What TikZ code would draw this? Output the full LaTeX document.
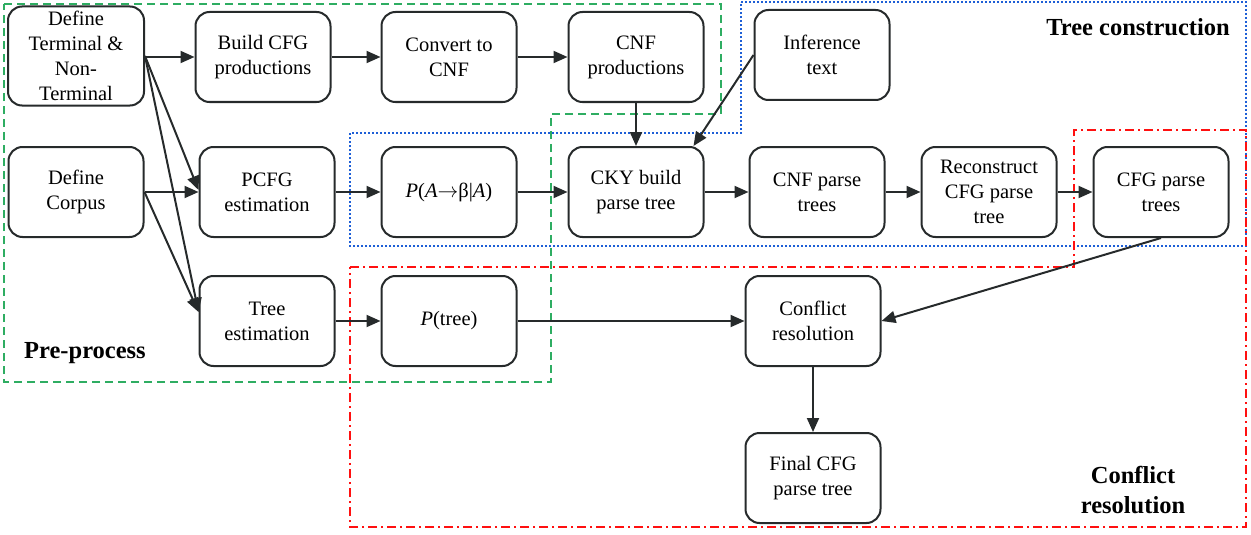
\documentclass[tikz,border=0pt]{standalone}
\usepackage{fontspec}
\setmainfont{Liberation Serif}
\usetikzlibrary{arrows.meta,calc}
\definecolor{ink}{HTML}{262A2B}
\definecolor{pgreen}{HTML}{2EAD62}
\definecolor{pblue}{HTML}{1E5FD6}
\definecolor{pred}{HTML}{FF1010}
\begin{document}
\begin{tikzpicture}[x=1pt,y=-1pt,
 box/.style={draw=ink, line width=2pt, rounded corners=14pt, minimum width=135pt, minimum height=90pt, align=center, text=black, font=\fontsize{20.5}{25}\selectfont, inner sep=0pt},
 arr/.style={draw=ink, line width=2pt, -{Triangle[length=14pt,width=12pt]}},
 lbl/.style={font=\fontsize{24.5}{30}\selectfont\bfseries, text=black, align=center, inner sep=0pt},
 greenreg/.style={draw=pgreen, line width=2pt, dash pattern=on 8pt off 5pt},
 bluereg/.style={draw=pblue, line width=2pt, dash pattern=on 2pt off 2pt},
 redreg/.style={draw=pred, line width=2pt, dash pattern=on 9pt off 4pt on 2pt off 4pt}]
\useasboundingbox (0,0) rectangle (1251,535);

% regions
\draw[greenreg] (4,4) -- (721,4) -- (721,114) -- (551,114) -- (551,382) -- (4,382) -- cycle;
\draw[bluereg] (741,2) -- (1246,2) -- (1246,246) -- (350,246) -- (350,133) -- (741,133) -- cycle;
\draw[redreg] (350,267) -- (1074,267) -- (1074,130) -- (1246,130) -- (1246,527) -- (350,527) -- cycle;

% region labels
\node[lbl, anchor=east] (ltree) at (1230,27) {Tree construction};
\node[lbl, anchor=west] (lpre) at (24,353) {Pre-process};
\node[lbl] (lconf) at (1133,490) {Conflict\\resolution};

% nodes
\node[box, minimum width=136pt, minimum height=99pt] (dt) at (76,56) {Define\\Terminal \&\\Non-\\Terminal};
\node[box] (build) at (263,57) {Build CFG\\productions};
\node[box] (conv) at (449,57) {Convert to\\CNF};
\node[box] (cnfp) at (636,57) {CNF\\productions};
\node[box] (inf) at (822,55) {Inference\\text};
\node[box] (corpus) at (76,192) {Define\\Corpus};
\node[box] (pcfg) at (267,192) {PCFG\\estimation};
\node[box] (prob) at (449,192) {\textit{P}(\textit{A}\ensuremath{\rightarrow}β|\textit{A})};
\node[box] (cky) at (636,192) {CKY build\\parse tree};
\node[box] (cnft) at (817,192) {CNF parse\\trees};
\node[box] (recon) at (989,192) {Reconstruct\\CFG parse\\tree};
\node[box] (cfgt) at (1161,192) {CFG parse\\trees};
\node[box] (treeest) at (267,321) {Tree\\estimation};
\node[box] (ptree) at (449,321) {\textit{P}(tree)};
\node[box] (conf) at (813,321) {Conflict\\resolution};
\node[box] (final) at (813,478) {Final CFG\\parse tree};

\coordinate (tein) at ($(treeest.west)+(0,-9)$);
\coordinate (ckyin) at ($(cky.north east)+(-11,0)$);

% connectors
\draw[arr] (dt.east |- build.west) -- (build.west);
\draw[arr] (build) -- (conv);
\draw[arr] (conv) -- (cnfp);
\draw[arr] (cnfp) -- (cky);
\draw[arr] (inf.west) -- (ckyin);
\draw[arr] (dt.east) -- ($(pcfg.west)+(0,-2)$);
\draw[arr] (dt.east) -- (tein);
\draw[arr] (corpus) -- (pcfg);
\draw[arr] (corpus.east) -- (tein);
\draw[arr] (pcfg) -- (prob);
\draw[arr] (prob) -- (cky);
\draw[arr] (cky) -- (cnft);
\draw[arr] (cnft) -- (recon);
\draw[arr] (recon) -- (cfgt);
\draw[arr] (cfgt.south) -- (conf.east);
\draw[arr] (treeest) -- (ptree);
\draw[arr] (ptree) -- (conf);
\draw[arr] (conf) -- (final);
\end{tikzpicture}
\end{document}
